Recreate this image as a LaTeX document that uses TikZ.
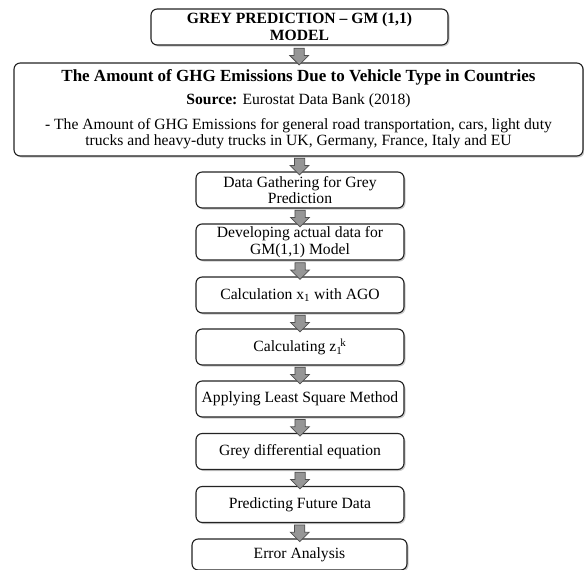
\documentclass[tikz,border=0pt]{standalone}
\usepackage{fontspec}
\setmainfont{Liberation Serif}
\usetikzlibrary{positioning, shapes.arrows, shadows}
\definecolor{cLine}{RGB}{35,35,35}
\definecolor{cArr} {RGB}{150,150,150}
\tikzset{
  %% rounded step box with a light shadow
  BOX/.style={rectangle, rounded corners=5pt, draw=cLine, fill=white,
              line width=0.9pt, minimum width=#1, minimum height=28.8pt,
              inner sep=2pt, align=center, font=\fontsize{12.5}{13.4}\selectfont,
              drop shadow={shadow xshift=1.2pt, shadow yshift=-1.2pt,
                           opacity=0.35, fill=black!60}},
  BOX/.default=166.4pt,
  %% fat grey arrow between two boxes
  DWN/.style={single arrow, shape border rotate=270, draw=cLine!80,
              fill=cArr, line width=0.6pt, inner sep=3.8pt,
              single arrow head extend=3.4pt, minimum height=13.4pt},
}

\begin{document}
\begin{tikzpicture}[x=0.8pt, y=-0.8pt]

\useasboundingbox (0,0) rectangle (584,570);

%% ════════════════════════════════════════════════
%%  NODES  (absolute coordinates, y downwards)
%% ════════════════════════════════════════════════

%% Title
\node[BOX=237.6pt, font=\fontsize{12.5}{13.4}\selectfont\bfseries] (title) at (299.5, 27)
  {GREY PREDICTION -- GM (1,1)\\MODEL};

%% Data source box
\node[BOX=455.2pt, minimum height=74.4pt] (src) at (298.5, 109.5)
  {{\fontsize{13.6}{15}\selectfont\bfseries The Amount of GHG Emissions Due to Vehicle Type in Countries}\\[5pt]
   \textbf{Source:} Eurostat Data Bank (2018)\\[6pt]
   - The Amount of GHG Emissions for general road transportation, cars, light duty\\
   trucks and heavy-duty trucks in UK, Germany, France, Italy and EU};

%% ── Steps (x = 300) ──
\node[BOX] (gather)  at (300, 190)   {Data Gathering for Grey\\Prediction};
\node[BOX] (develop) at (300, 242)   {Developing actual data for\\GM(1,1) Model};
\node[BOX] (ago)     at (300, 295)   {Calculation x\textsubscript{1} with AGO};
\node[BOX] (zval)    at (300, 347)   {Calculating z\textsubscript{1}\kern-1.5pt\textsuperscript{k}};
\node[BOX] (lsm)     at (300, 399)   {Applying Least Square Method};
\node[BOX] (gde)     at (300, 451.5) {Grey differential equation};
\node[BOX] (future)  at (300, 504.5) {Predicting Future Data};
\node[BOX=172pt, minimum height=24.8pt] (error) at (299.5, 554.5) {Error Analysis};

%% ════════════════════════════════════════════════
%%  ARROWS
%% ════════════════════════════════════════════════
\foreach \a/\b in {title/src, src/gather, gather/develop, develop/ago,
                   ago/zval, zval/lsm, lsm/gde, gde/future, future/error}
  \path (\a) -- node[DWN] (to-\b) {} (\b);

\end{tikzpicture}
\end{document}
